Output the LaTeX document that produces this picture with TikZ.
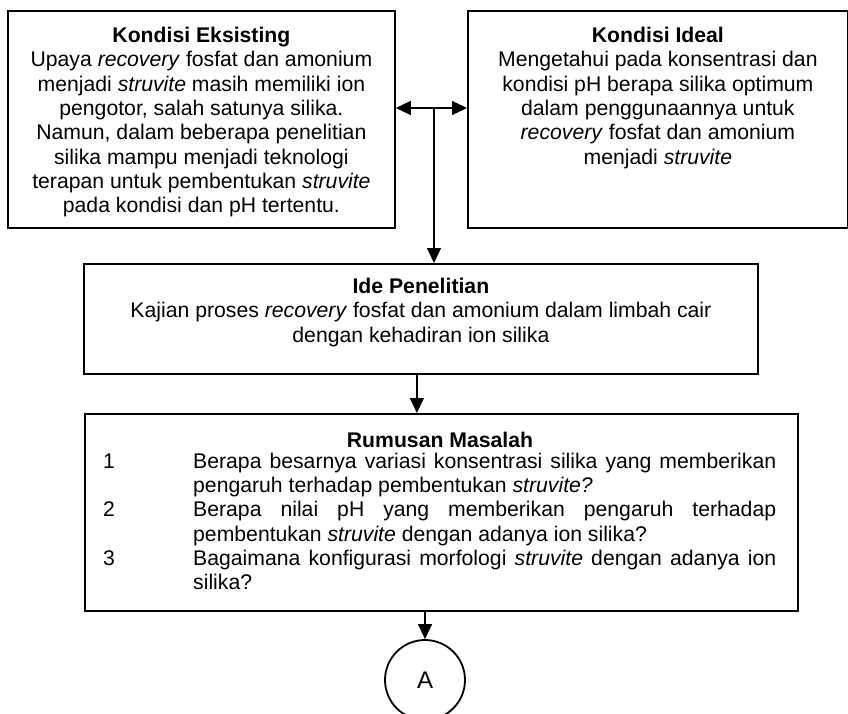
\documentclass[tikz,border=0pt]{standalone}
\usepackage{fontspec}
\setmainfont{Liberation Sans}
\usetikzlibrary{arrows.meta}
\usetikzlibrary{positioning}
\hyphenpenalty=10000
\exhyphenpenalty=10000

\begin{document}
\begin{tikzpicture}[x=1pt,y=-1pt,
        every node/.style={font=\fontsize{21.2}{24.3}\selectfont},
        kotak/.style={draw, line width=1.8pt, inner sep=0pt, anchor=north west},
        isi/.style={inner sep=0pt, anchor=north, align=center},
        panah/.style={line width=1.3pt, -{Triangle[length=15pt,width=14pt]}}]
        \useasboundingbox (0,0) rectangle (848,714);
        % kotak-kotak
        \node [kotak, minimum width=387pt, minimum height=217pt] (eksisting) at (7,10) {};
        \node [kotak, minimum width=380pt, minimum height=217pt] (ideal) at (467,10) {};
        \node [kotak, minimum width=674pt, minimum height=110pt] (ide) at (83,263) {};
        \node [kotak, minimum width=713pt, minimum height=197pt] (rumusan) at (84,413) {};
        \node [draw, circle, line width=1.8pt, minimum size=80pt, inner sep=0pt,
               font=\fontsize{24}{28}\selectfont] (lingkaranA) at (425,680) {A};
        % isi kotak
        \node [isi] (teksEksisting) at ([yshift=-17pt]eksisting.north) {\textbf{Kondisi Eksisting}\\
                Upaya \textit{recovery} fosfat dan amonium\\
                menjadi \textit{struvite} masih memiliki ion\\
                pengotor, salah satunya silika.\\
                Namun, dalam beberapa penelitian\\
                silika mampu menjadi teknologi\\
                terapan untuk pembentukan \textit{struvite}\\
                pada kondisi dan pH tertentu.};
        \node [isi] (teksIdeal) at ([yshift=-17pt]ideal.north) {\textbf{Kondisi Ideal}\\
                Mengetahui pada konsentrasi dan\\
                kondisi pH berapa silika optimum\\
                dalam penggunaannya untuk\\
                \textit{recovery} fosfat dan amonium\\
                menjadi \textit{struvite}};
        \node [isi] (teksIde) at ([yshift=-15pt]ide.north) {\textbf{Ide Penelitian}\\
                Kajian proses \textit{recovery} fosfat dan amonium dalam limbah cair\\
                dengan kehadiran ion silika};
        \node [isi] (judulRumusan) at (440,432) {\textbf{Rumusan Masalah}};
        \node [anchor=north west, inner sep=0pt] (daftarRumusan) at (103,451) {%
                \begin{tabular}{@{}p{90pt}@{}p{583pt}@{}}
                1 & Berapa besarnya variasi konsentrasi silika yang memberikan\linebreak pengaruh terhadap pembentukan \textit{struvite?} \\
                2 & Berapa nilai pH yang memberikan pengaruh terhadap\linebreak pembentukan \textit{struvite} dengan adanya ion silika? \\
                3 & Bagaimana konfigurasi morfologi \textit{struvite} dengan adanya ion\linebreak silika? \\
                \end{tabular}};
        % panah
        \coordinate (cabang) at (434,108);
        \draw [panah, {Triangle[length=15pt,width=14pt]}-{Triangle[length=15pt,width=14pt]}] (cabang -| eksisting.east) -- (cabang -| ideal.west);
        \draw [panah] (cabang) -- (cabang |- ide.north);
        \draw [panah] ([xshift=-4pt]ide.south) -- ([xshift=-4pt]ide.south |- rumusan.north);
        \draw [panah] (lingkaranA.north |- rumusan.south) -- (lingkaranA.north);
\end{tikzpicture}
\end{document}
